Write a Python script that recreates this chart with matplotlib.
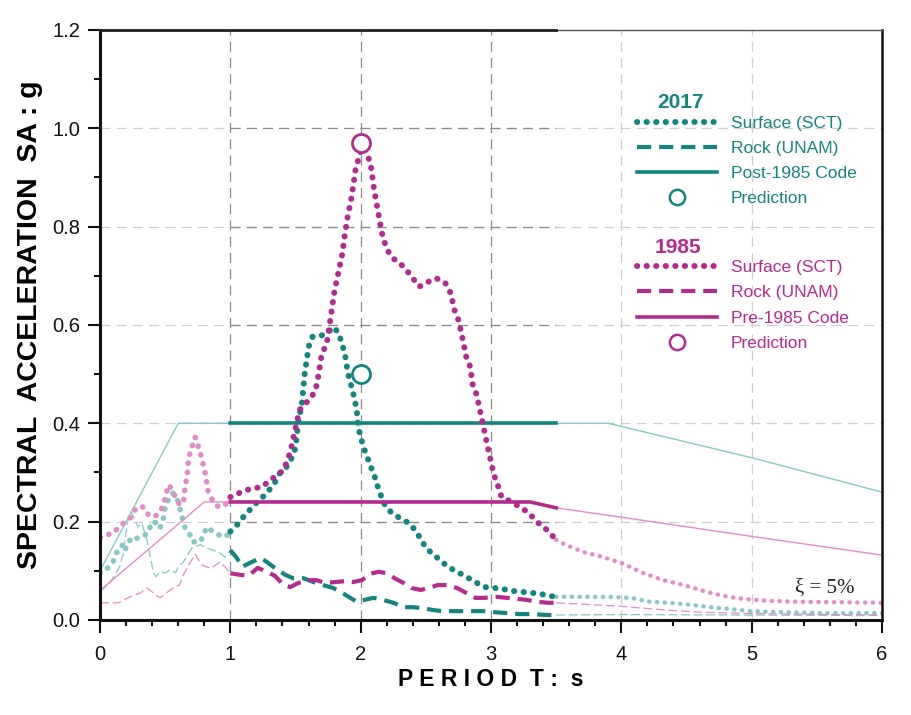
import numpy as np
import matplotlib.pyplot as plt
from matplotlib.ticker import MultipleLocator, FormatStrFormatter
from matplotlib.lines import Line2D

plt.rcParams['font.family'] = ['Liberation Sans', 'DejaVu Sans']

teal = '#12857f'
teal_lt = '#86c9c4'
mag = '#b42a8e'
mag_lt = '#e28cc6'

# period range drawn with heavy lines, the rest is drawn faded
core_lo, core_hi = 1.0, 3.5

# 1985 surface (SCT)
t85_sct = [0.0, 0.10, 0.18, 0.23, 0.27, 0.31, 0.34, 0.37, 0.42, 0.46, 0.49, 0.51, 0.53,
           0.55, 0.58, 0.61, 0.64, 0.65, 0.67, 0.68, 0.71, 0.73, 0.75, 0.78, 0.81, 0.83,
           0.87, 0.91, 0.96, 1.00, 1.10, 1.17, 1.24, 1.30, 1.41, 1.46, 1.50, 1.53, 1.60,
           1.65, 1.67, 1.70, 1.74, 1.77, 1.80, 1.83, 1.86, 1.88, 1.90, 1.93, 1.96, 1.98,
           2.01, 2.05, 2.08, 2.10, 2.12, 2.14, 2.16, 2.18, 2.21, 2.25, 2.30, 2.35, 2.40,
           2.45, 2.52, 2.58, 2.65, 2.69, 2.72, 2.75, 2.78, 2.81, 2.84, 2.86, 2.89, 2.92,
           2.95, 2.98, 3.01, 3.03, 3.06, 3.08, 3.16, 3.22, 3.29, 3.35, 3.43, 3.50, 3.57,
           3.71, 3.86, 4.01, 4.17, 4.32, 4.48, 4.63, 4.78, 4.93, 5.12, 5.37, 6.00]
sa85_sct = [0.168, 0.177, 0.197, 0.207, 0.224, 0.232, 0.228, 0.214, 0.210, 0.220, 0.237,
            0.260, 0.275, 0.265, 0.250, 0.234, 0.240, 0.264, 0.299, 0.330, 0.356, 0.372,
            0.356, 0.330, 0.295, 0.260, 0.240, 0.230, 0.234, 0.250, 0.262, 0.268, 0.270,
            0.283, 0.305, 0.342, 0.390, 0.427, 0.447, 0.464, 0.488, 0.539, 0.563, 0.616,
            0.671, 0.708, 0.746, 0.787, 0.820, 0.860, 0.915, 0.935, 0.962, 0.950, 0.920,
            0.880, 0.850, 0.820, 0.790, 0.770, 0.750, 0.735, 0.726, 0.712, 0.695, 0.678,
            0.688, 0.695, 0.685, 0.665, 0.630, 0.610, 0.574, 0.535, 0.515, 0.478, 0.458,
            0.420, 0.383, 0.345, 0.310, 0.289, 0.268, 0.250, 0.240, 0.230, 0.218, 0.200,
            0.183, 0.163, 0.153, 0.138, 0.128, 0.115, 0.095, 0.081, 0.071, 0.059, 0.049,
            0.043, 0.039, 0.037, 0.035]

# 2017 surface (SCT)
t17_sct = [0.0, 0.06, 0.10, 0.13, 0.17, 0.19, 0.21, 0.25, 0.28, 0.33, 0.37, 0.40, 0.44,
           0.46, 0.49, 0.50, 0.54, 0.56, 0.59, 0.61, 0.65, 0.69, 0.71, 0.77, 0.82, 0.87,
           0.94, 0.98, 1.00, 1.05, 1.11, 1.20, 1.28, 1.34, 1.38, 1.43, 1.47, 1.50, 1.52,
           1.55, 1.57, 1.60, 1.63, 1.69, 1.74, 1.79, 1.83, 1.86, 1.88, 1.90, 1.94, 1.97,
           1.98, 2.02, 2.05, 2.07, 2.10, 2.12, 2.15, 2.17, 2.23, 2.30, 2.37, 2.43, 2.47,
           2.52, 2.59, 2.67, 2.74, 2.81, 2.88, 2.95, 3.03, 3.09, 3.17, 3.24, 3.32, 3.38,
           3.45, 3.50, 3.71, 3.91, 4.07, 4.22, 4.37, 4.53, 4.68, 4.84, 4.99, 5.24, 5.50,
           6.00]
sa17_sct = [0.095, 0.106, 0.118, 0.138, 0.152, 0.140, 0.156, 0.169, 0.166, 0.169, 0.179,
            0.200, 0.197, 0.187, 0.210, 0.230, 0.255, 0.258, 0.248, 0.230, 0.189, 0.173,
            0.159, 0.159, 0.189, 0.179, 0.169, 0.173, 0.180, 0.193, 0.213, 0.238, 0.258,
            0.279, 0.299, 0.311, 0.329, 0.350, 0.400, 0.443, 0.500, 0.555, 0.576, 0.578,
            0.582, 0.596, 0.584, 0.559, 0.539, 0.504, 0.464, 0.427, 0.393, 0.352, 0.332,
            0.315, 0.299, 0.279, 0.258, 0.240, 0.220, 0.207, 0.197, 0.179, 0.159, 0.142,
            0.126, 0.108, 0.098, 0.088, 0.077, 0.067, 0.065, 0.063, 0.059, 0.057, 0.055,
            0.053, 0.049, 0.047, 0.047, 0.047, 0.045, 0.037, 0.035, 0.031, 0.026, 0.022,
            0.018, 0.016, 0.014, 0.014]

# 1985 rock (UNAM)
t85_unam = [0.0, 0.14, 0.23, 0.31, 0.36, 0.41, 0.46, 0.51, 0.56, 0.61, 0.64, 0.69, 0.73,
            0.78, 0.85, 0.92, 0.97, 1.00, 1.07, 1.14, 1.21, 1.28, 1.34, 1.41, 1.46, 1.52,
            1.60, 1.66, 1.73, 1.80, 1.88, 1.94, 2.01, 2.07, 2.14, 2.20, 2.26, 2.33, 2.39,
            2.46, 2.52, 2.59, 2.67, 2.74, 2.81, 2.88, 2.95, 3.04, 3.12, 3.20, 3.27, 3.35,
            3.44, 3.50, 3.99, 4.35, 4.60, 5.00, 6.00]
sa85_unam = [0.035, 0.035, 0.047, 0.055, 0.065, 0.055, 0.045, 0.055, 0.065, 0.071, 0.092,
             0.116, 0.134, 0.112, 0.105, 0.118, 0.105, 0.095, 0.092, 0.090, 0.106, 0.098,
             0.090, 0.071, 0.067, 0.075, 0.081, 0.081, 0.075, 0.077, 0.079, 0.077, 0.081,
             0.094, 0.098, 0.095, 0.085, 0.075, 0.065, 0.061, 0.065, 0.071, 0.071, 0.065,
             0.055, 0.045, 0.045, 0.047, 0.045, 0.043, 0.041, 0.037, 0.035, 0.035, 0.028,
             0.020, 0.016, 0.013, 0.010]

# 2017 rock (UNAM)
t17_unam = [0.0, 0.08, 0.15, 0.18, 0.20, 0.22, 0.24, 0.27, 0.29, 0.32, 0.36, 0.38, 0.41,
            0.43, 0.46, 0.50, 0.54, 0.58, 0.60, 0.64, 0.68, 0.71, 0.77, 0.82, 0.87, 0.92,
            0.96, 1.00, 1.05, 1.09, 1.15, 1.23, 1.28, 1.34, 1.42, 1.48, 1.56, 1.64, 1.71,
            1.79, 1.86, 1.92, 1.97, 2.03, 2.10, 2.17, 2.25, 2.33, 2.40, 2.48, 2.56, 2.63,
            2.94, 3.02, 3.12, 3.22, 3.32, 3.43, 3.50, 4.00, 5.00, 6.00]
sa17_unam = [0.057, 0.077, 0.108, 0.136, 0.177, 0.213, 0.220, 0.203, 0.189, 0.197, 0.163,
             0.136, 0.096, 0.088, 0.098, 0.096, 0.102, 0.096, 0.108, 0.118, 0.136, 0.148,
             0.153, 0.146, 0.142, 0.136, 0.128, 0.142, 0.126, 0.108, 0.116, 0.126, 0.118,
             0.106, 0.092, 0.085, 0.085, 0.077, 0.071, 0.065, 0.055, 0.045, 0.037, 0.041,
             0.045, 0.041, 0.035, 0.026, 0.026, 0.024, 0.020, 0.018, 0.018, 0.016, 0.014,
             0.012, 0.012, 0.010, 0.010, 0.011, 0.010, 0.009]

# design code spectra
t_post85 = [0.0, 0.6, 1.0, 3.5, 3.9, 5.0, 6.0]
sa_post85 = [0.10, 0.40, 0.40, 0.40, 0.40, 0.33, 0.26]
t_pre85 = [0.0, 0.8, 1.0, 3.3, 3.5, 4.0, 5.0, 6.0]
sa_pre85 = [0.06, 0.24, 0.24, 0.24, 0.228, 0.209, 0.170, 0.132]

# predicted peaks
t_pred = [2.0, 2.0]
sa_pred = [0.50, 0.97]   # 2017, 1985


def split(t, sa):
    t = np.asarray(t)
    sa = np.asarray(sa)
    lo = t <= core_lo
    mid = (t >= core_lo) & (t <= core_hi)
    hi = t >= core_hi
    return (t[lo], sa[lo]), (t[mid], sa[mid]), (t[hi], sa[hi])


dot_core = dict(linestyle=(0, (0.05, 1.55)), lw=4.3, dash_capstyle='round')
dot_lo = dict(linestyle=(0, (0.05, 1.6)), lw=4.0, dash_capstyle='round')
dot_hi = dict(linestyle=(0, (0.05, 1.7)), lw=3.2, dash_capstyle='round')
dash_core = dict(linestyle=(0, (3.4, 1.9)), lw=3.0)
dash_out = dict(linestyle=(0, (7, 3)), lw=0.9)
solid_core = dict(lw=2.6)
solid_out = dict(lw=1.0)

fig = plt.figure(figsize=(9.11, 7.15), dpi=100)
ax = fig.add_axes([0.1098, 0.1329, 0.8584, 0.8252])
ax.set_xlim(0, 6)
ax.set_ylim(0, 1.2)

# grid: darker inside the heavy-line band
for x in range(1, 6):
    c = '#8a8a8a' if core_lo <= x <= core_hi else '#cfcfcf'
    ax.axvline(x, color=c, lw=0.9, dashes=(8, 5), zorder=0)
for y in np.arange(0.2, 1.01, 0.2):
    ax.axhline(y, color='#cfcfcf', lw=0.9, dashes=(8, 5), zorder=0)
    ax.axhline(y, xmin=core_lo / 6, xmax=core_hi / 6, color='#8a8a8a', lw=0.9,
               dashes=(8, 5), zorder=0)

series = [
    (t17_sct, sa17_sct, teal, teal_lt, dot_core, dot_lo, dot_hi),
    (t17_unam, sa17_unam, teal, teal_lt, dash_core, dash_out, dash_out),
    (t_post85, sa_post85, teal, teal_lt, solid_core, solid_out, solid_out),
    (t85_sct, sa85_sct, mag, mag_lt, dot_core, dot_lo, dot_hi),
    (t85_unam, sa85_unam, mag, mag_lt, dash_core, dash_out, dash_out),
    (t_pre85, sa_pre85, mag, mag_lt, solid_core, solid_out, solid_out),
]

handles = []
for t, sa, col, col_lt, sty, sty_lo, sty_hi in series:
    lo, mid, hi = split(t, sa)
    ax.plot(lo[0], lo[1], color=col_lt, zorder=2, **sty_lo)
    ax.plot(hi[0], hi[1], color=col_lt, zorder=2, **sty_hi)
    ln, = ax.plot(mid[0], mid[1], color=col, zorder=3, **sty)
    handles.append(ln)

ax.plot(t_pred[0], sa_pred[0], 'o', ms=13, mfc='white', mec=teal, mew=2, zorder=5)
ax.plot(t_pred[1], sa_pred[1], 'o', ms=13, mfc='white', mec=mag, mew=2, zorder=5)

leg_kw = dict(loc='upper left', frameon=False, fontsize=12.5, handlelength=4.6,
              handletextpad=0.8, labelspacing=0.58, borderpad=0, borderaxespad=0,
              numpoints=1)
h17 = [handles[0], handles[1], handles[2], Line2D([], [], ls='none', marker='o', ms=11,
                                                   mfc='white', mec=teal, mew=1.8)]
leg1 = ax.legend(h17, ['Surface (SCT)', 'Rock (UNAM)', 'Post-1985 Code', 'Prediction'],
                 bbox_to_anchor=(0.687, 0.855), labelcolor=teal, **leg_kw)
ax.add_artist(leg1)
h85 = [handles[3], handles[4], handles[5], Line2D([], [], ls='none', marker='o', ms=11,
                                                   mfc='white', mec=mag, mew=1.8)]
ax.legend(h85, ['Surface (SCT)', 'Rock (UNAM)', 'Pre-1985 Code', 'Prediction'],
          bbox_to_anchor=(0.687, 0.610), labelcolor=mag, **leg_kw)
ax.text(0.742, 0.877, '2017', transform=ax.transAxes, color=teal, fontsize=15,
        fontweight='bold', ha='center', va='center')
ax.text(0.739, 0.632, '1985', transform=ax.transAxes, color=mag, fontsize=15,
        fontweight='bold', ha='center', va='center')

ax.text(5.56, 0.067, 'ξ = 5%', family=['Liberation Serif', 'DejaVu Serif'], fontsize=15,
        ha='center', va='center', color='#222222')

# ticks and frame
ax.xaxis.set_major_locator(MultipleLocator(1))
ax.xaxis.set_minor_locator(MultipleLocator(0.2))
ax.yaxis.set_major_locator(MultipleLocator(0.2))
ax.yaxis.set_minor_locator(MultipleLocator(0.1))
ax.yaxis.set_major_formatter(FormatStrFormatter('%.1f'))
ax.tick_params(which='both', direction='out', width=1.5, colors='#111111', labelsize=14.5)
ax.tick_params(which='major', length=9)
ax.tick_params(which='minor', length=4.5)
ax.tick_params(axis='x', pad=9)
ax.tick_params(axis='y', pad=5)

for s in ('left', 'bottom'):
    ax.spines[s].set_linewidth(2.2)
    ax.spines[s].set_color('#111111')
ax.spines['right'].set_linewidth(1.8)
ax.spines['right'].set_color('#111111')
ax.spines['top'].set_linewidth(1.0)
ax.spines['top'].set_color('#555555')
ax.axhline(1.2, xmin=0, xmax=core_hi / 6, color='#222222', lw=2.0, clip_on=False, zorder=6)

ax.set_xlabel('P E R I O D  T :  s', fontsize=16.5, fontweight='bold')
ax.xaxis.set_label_coords(0.5, -0.081)
ax.set_ylabel('SPECTRAL  ACCELERATION  SA : g', fontsize=20.5, fontweight='bold')
ax.yaxis.set_label_coords(-0.073, 0.5)

fig.savefig('out.png', dpi=100)
